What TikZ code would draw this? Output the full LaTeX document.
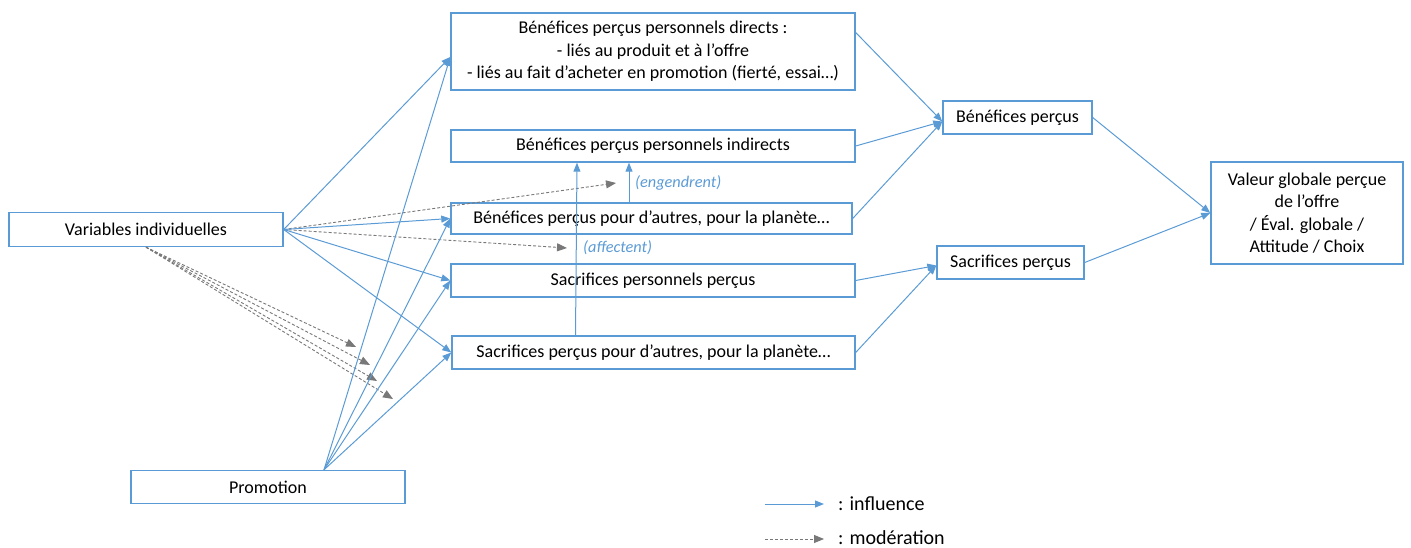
\documentclass[tikz,border=0pt]{standalone}
\usepackage{fontspec}
\setmainfont{Carlito}
\usetikzlibrary{arrows.meta}
\definecolor{bl}{RGB}{91,155,213}
\definecolor{gr}{RGB}{120,120,120}
\begin{document}
\begin{tikzpicture}[x=1pt,y=-1pt,
  box/.style={draw=bl,line width=1.4pt,fill=white,inner sep=0pt,align=center,font=\fontsize{18}{22.5}\selectfont},
  infl/.style={draw=bl,line width=1pt,-{Triangle[length=9pt,width=7pt]}},
  mod/.style={draw=gr,line width=0.9pt,dash pattern=on 3pt off 2pt,-{Triangle[length=10pt,width=8pt]}},
  lbl/.style={text=bl,font=\fontsize{16.3}{20}\selectfont\itshape,inner sep=0pt,anchor=west},
  leg/.style={font=\fontsize{20}{24}\selectfont,inner sep=0pt,anchor=base west,text depth=0pt}]
\useasboundingbox (0,0) rectangle (1411,548);
% nodes
\node[box,minimum width=274pt,minimum height=34pt] (var) at (146,229.5) {Variables individuelles};
\node[box,minimum width=274pt,minimum height=33pt] (promo) at (268,487) {Promotion};
\node[box,minimum width=404pt,minimum height=77pt] (bd) at (653,51.5) {Bénéfices perçus personnels directs :\\- liés au produit et à l’offre\\- liés au fait d’acheter en promotion (fierté, essai…)};
\node[box,minimum width=404pt,minimum height=32pt] (bi) at (653,146) {Bénéfices perçus personnels indirects};
\node[box,minimum width=401pt,minimum height=31pt] (ba) at (651.5,218.5) {Bénéfices perçus pour d’autres, pour la planète…};
\node[box,minimum width=404pt,minimum height=33pt] (sp) at (653,280.5) {Sacrifices personnels perçus};
\node[box,minimum width=403pt,minimum height=33pt] (sa) at (653.5,352.5) {Sacrifices perçus pour d’autres, pour la planète…};
\node[box,minimum width=149pt,minimum height=33pt] (bp) at (1017.5,117.5) {Bénéfices perçus};
\node[box,minimum width=147pt,minimum height=33pt] (sacp) at (1010.5,262.5) {Sacrifices perçus};
\node[box,minimum width=192pt,minimum height=102pt] (val) at (1307,213) {Valeur globale perçue\\de l’offre\\/ Éval. globale /\\Attitude / Choix};
% coordinates
\coordinate (bdin) at ([yshift=-5.5pt]bd.west);
\coordinate (ptop) at ([xshift=56pt]promo.north);
\coordinate (m1) at (616,183);
\coordinate (m2) at (567,248);
\coordinate (m3) at (356,347);
\coordinate (m4) at (370,365);
\coordinate (m5) at (377,381);
\coordinate (m6) at (393,399);
\coordinate (bpin) at ([yshift=-4pt]bp.west);
\coordinate (bdout) at ([yshift=19pt]bd.east);
\coordinate (sacpin) at ([yshift=-3pt]sacp.west);
% moderation
\draw[mod] (var.east) -- (m1);
\draw[mod] (var.east) -- (m2);
\draw[mod] (var.south) -- (m3);
\draw[mod] (var.south) -- (m4);
\draw[mod] (var.south) -- (m5);
\draw[mod] (var.south) -- (m6);
% influences
\draw[infl] (var.east) -- (bdin);
\draw[infl] (var.east) -- (ba.west);
\draw[infl] (var.east) -- (sp.west);
\draw[infl] (var.east) -- (sa.west);
\draw[infl] (ptop) -- (bdin);
\draw[infl] (ptop) -- (ba.west);
\draw[infl] (ptop) -- (sp.west);
\draw[infl] (ptop) -- (sa.west);
\draw[infl] ([xshift=-78pt]sa.north) -- ([xshift=-76pt]bi.south);
\draw[infl] ([xshift=-22.5pt]ba.north) -- ([xshift=-24pt]bi.south);
\draw[infl] (bdout) -- (bpin);
\draw[infl] (bi.east) -- (bpin);
\draw[infl] (ba.east) -- (bpin);
\draw[infl] (sp.east) -- (sacpin);
\draw[infl] (sa.east) -- (sacpin);
\draw[infl] (bp.east) -- (val.west);
\draw[infl] (sacp.east) -- (val.west);
% labels
\node[lbl] (eng) at (635,183) {(engendrent)};
\node[lbl] (aff) at (583,248) {(affectent)};
% legend
\coordinate (l1a) at (765,504);
\coordinate (l1b) at (824,504);
\coordinate (l2a) at (765,539);
\coordinate (l2b) at (824,539);
\draw[infl] (l1a) -- (l1b);
\draw[mod] (l2a) -- (l2b);
\node[leg] (li) at (838,510) {: influence};
\node[leg] (lm) at (838,544) {: modération};
\end{tikzpicture}
\end{document}
